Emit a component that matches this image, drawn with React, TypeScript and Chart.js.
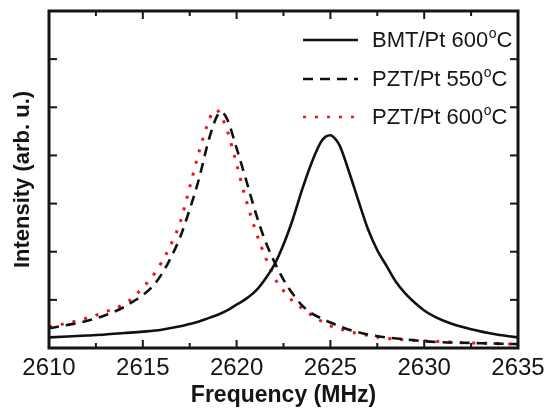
import { useEffect, useRef } from "react";
import { Chart, registerables } from "chart.js";

Chart.register(...registerables);

const FONT = "'Liberation Sans', Arial, Helvetica, sans-serif";
const INK = "#151515";

// Frequency (MHz) and intensity (arb. u.)
const bmtFreq = [2610, 2611, 2612, 2613, 2614, 2615, 2616, 2617, 2617.5, 2618, 2618.5, 2619, 2619.5, 2620, 2620.5, 2621, 2621.5, 2622, 2622.5, 2623, 2623.5, 2624, 2624.5, 2624.75, 2625, 2625.25, 2625.5, 2626, 2626.5, 2627, 2627.5, 2628, 2628.5, 2629, 2629.5, 2630, 2630.5, 2631, 2631.5, 2632, 2632.5, 2633, 2633.5, 2634, 2634.5, 2635];
const bmtInt = [0.22, 0.24, 0.26, 0.28, 0.31, 0.34, 0.38, 0.45, 0.5, 0.55, 0.62, 0.69, 0.78, 0.9, 1.02, 1.18, 1.42, 1.72, 2.15, 2.68, 3.3, 3.85, 4.28, 4.39, 4.42, 4.35, 4.2, 3.65, 3.05, 2.47, 2.03, 1.7, 1.37, 1.13, 0.94, 0.78, 0.66, 0.57, 0.5, 0.44, 0.39, 0.345, 0.305, 0.27, 0.245, 0.22];

const pzt550Freq = [2610, 2611, 2612, 2613, 2614, 2614.5, 2615, 2615.5, 2616, 2616.5, 2617, 2617.5, 2618, 2618.5, 2619, 2619.2, 2619.5, 2620, 2620.5, 2621, 2621.5, 2622, 2622.5, 2623, 2623.5, 2624, 2624.5, 2625, 2625.5, 2626, 2627, 2628, 2629, 2630, 2631, 2632, 2633, 2634, 2635];
const pzt550Int = [0.41, 0.48, 0.56, 0.68, 0.85, 0.97, 1.1, 1.27, 1.53, 1.88, 2.31, 2.88, 3.52, 4.3, 4.85, 4.9, 4.75, 4.15, 3.5, 2.83, 2.25, 1.8, 1.42, 1.12, 0.88, 0.72, 0.62, 0.53, 0.45, 0.38, 0.28, 0.22, 0.18, 0.14, 0.12, 0.11, 0.1, 0.09, 0.08];

const pzt600Freq = [2610, 2611, 2612, 2613, 2614, 2614.5, 2615, 2615.5, 2616, 2616.5, 2617, 2617.5, 2618, 2618.5, 2618.7, 2618.9, 2619.2, 2619.5, 2620, 2620.5, 2621, 2621.5, 2622, 2622.5, 2623, 2623.5, 2624, 2624.5, 2625, 2625.5, 2626, 2626.5, 2627, 2628, 2629, 2630, 2631, 2632, 2633, 2634, 2635];
const pzt600Int = [0.44, 0.52, 0.62, 0.75, 0.91, 1.05, 1.26, 1.48, 1.78, 2.15, 2.62, 3.34, 4.08, 4.7, 4.88, 4.95, 4.8, 4.52, 3.82, 3.08, 2.45, 1.92, 1.47, 1.19, 0.97, 0.82, 0.68, 0.56, 0.46, 0.4, 0.34, 0.3, 0.26, 0.2, 0.17, 0.15, 0.13, 0.11, 0.1, 0.09, 0.08];

const seriesNames = ["BMT/Pt 600", "PZT/Pt 550", "PZT/Pt 600"];
const seriesColors = ["#111111", "#111111", "#e8161b"];
const seriesDashes: number[][] = [[], [10, 7], [3, 9]];

const xMin = 2610;
const xMax = 2635;
const xStep = 5;
const xMajorTicks = [2610, 2615, 2620, 2625, 2630, 2635];
const xMinorTicks = [2612.5, 2617.5, 2622.5, 2627.5, 2632.5];
const yMin = 0;
const yMax = 7;
const yMajorTicks = [1, 2, 3, 4, 5, 6];

const xTitle = "Frequency (MHz)";
const yTitle = "Intensity (arb. u.)";

const toPoints = (xs: number[], ys: number[]) => xs.map((x, i) => ({ x, y: ys[i] }));

const decorPlugin = {
  id: "decor",
  afterDatasetsDraw(chart: any) {
    const { ctx, chartArea: a, scales } = chart;
    const xs = scales.x;
    const ys = scales.y;
    ctx.save();
    ctx.strokeStyle = INK;
    ctx.lineCap = "butt";
    ctx.setLineDash([]);
    ctx.lineWidth = 2;
    const tick = (x1: number, y1: number, x2: number, y2: number) => {
      ctx.beginPath();
      ctx.moveTo(x1, y1);
      ctx.lineTo(x2, y2);
      ctx.stroke();
    };
    xMajorTicks.forEach((v) => {
      const px = xs.getPixelForValue(v);
      tick(px, a.bottom, px, a.bottom - 8);
      tick(px, a.top, px, a.top + 8);
    });
    xMinorTicks.forEach((v) => {
      const px = xs.getPixelForValue(v);
      tick(px, a.bottom, px, a.bottom - 5);
      tick(px, a.top, px, a.top + 5);
    });
    yMajorTicks.forEach((v) => {
      const py = ys.getPixelForValue(v);
      tick(a.left, py, a.left + 8, py);
      tick(a.right, py, a.right - 8, py);
    });
    ctx.lineWidth = 3;
    ctx.strokeRect(a.left, a.top, a.right - a.left, a.bottom - a.top);

    // legend
    const rows = [40, 79, 117];
    const lx1 = 303;
    const lx2 = 358;
    const tx = 372;
    chart.data.datasets.forEach((_ds: any, i: number) => {
      const yy = rows[i];
      ctx.strokeStyle = seriesColors[i];
      ctx.lineWidth = 2.6;
      ctx.setLineDash(seriesDashes[i]);
      ctx.beginPath();
      ctx.moveTo(lx1, yy);
      ctx.lineTo(lx2, yy);
      ctx.stroke();
      ctx.setLineDash([]);
      ctx.fillStyle = INK;
      ctx.textBaseline = "middle";
      ctx.textAlign = "left";
      ctx.font = `22px ${FONT}`;
      const main = seriesNames[i];
      ctx.fillText(main, tx, yy + 1);
      let w = ctx.measureText(main).width;
      ctx.font = `14px ${FONT}`;
      ctx.fillText("o", tx + w + 0.5, yy - 6);
      w += ctx.measureText("o").width + 0.5;
      ctx.font = `22px ${FONT}`;
      ctx.fillText("C", tx + w, yy + 1);
    });
    ctx.restore();
  },
};

export default function App() {
  const ref = useRef<HTMLCanvasElement | null>(null);
  useEffect(() => {
    if (!ref.current) return;
    const allX = [bmtFreq, pzt550Freq, pzt600Freq];
    const allY = [bmtInt, pzt550Int, pzt600Int];
    const chart = new Chart(ref.current, {
      type: "line",
      data: {
        datasets: seriesNames.map((name, i) => ({
          label: name,
          data: toPoints(allX[i], allY[i]),
          borderColor: seriesColors[i],
          borderWidth: i === 2 ? 3 : 2.6,
          borderDash: seriesDashes[i],
          pointRadius: 0,
          fill: false,
          cubicInterpolationMode: "monotone" as const,
        })),
      },
      options: {
        responsive: false,
        animation: false,
        layout: { padding: { top: 11, right: 37, left: 0, bottom: 0 } },
        plugins: { legend: { display: false }, tooltip: { enabled: false } },
        scales: {
          x: {
            type: "linear",
            min: xMin,
            max: xMax,
            grid: { display: false, drawTicks: false },
            border: { display: false },
            ticks: {
              stepSize: xStep,
              padding: 6,
              color: INK,
              font: { family: FONT, size: 24 },
              callback: (v: any) => String(v),
              maxRotation: 0,
            },
            title: {
              display: true,
              text: xTitle,
              color: INK,
              font: { family: FONT, size: 23, weight: "bold" },
              padding: { top: 0, bottom: 0 },
            },
            afterFit: (s: any) => {
              s.height = 61;
            },
          },
          y: {
            min: yMin,
            max: yMax,
            grid: { display: false, drawTicks: false },
            border: { display: false },
            ticks: { display: false },
            title: {
              display: true,
              text: yTitle,
              color: INK,
              font: { family: FONT, size: 22, weight: "bold" },
              padding: { top: 10, bottom: 0 },
            },
            afterFit: (s: any) => {
              s.width = 49;
            },
          },
        },
      },
      plugins: [decorPlugin],
    });
    return () => chart.destroy();
  }, []);
  return (
    <div style={{ position: "fixed", left: 0, top: 0, width: 555, height: 409, background: "#fff" }}>
      <canvas ref={ref} width={555} height={409} style={{ display: "block" }} />
    </div>
  );
}
